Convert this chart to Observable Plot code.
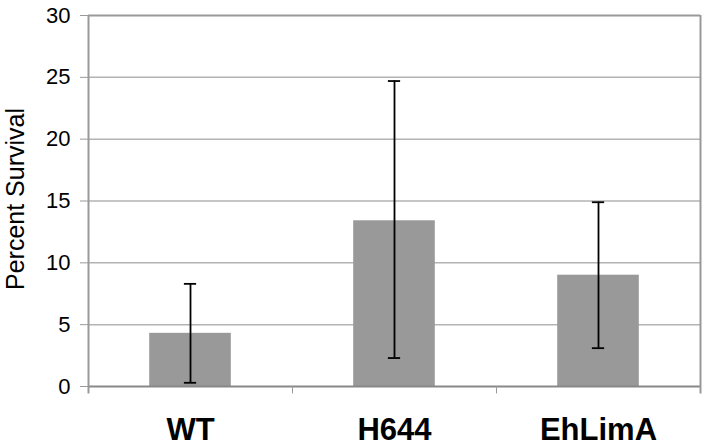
<!DOCTYPE html>
<html>
<head>
<meta charset="utf-8">
<script src="https://cdn.jsdelivr.net/npm/d3@7"></script>
<script src="https://cdn.jsdelivr.net/npm/@observablehq/plot@0.6"></script>
<style>
  html, body { margin: 0; padding: 0; background: white; }
</style>
</head>
<body>
<div id="chart"></div>
<script>
const categories = ["WT", "H644", "EhLimA"];
const means = [4.3, 13.4, 9.0];
const lows = [0.3, 2.3, 3.1];
const highs = [8.3, 24.7, 14.9];
const yTicks = [0, 5, 10, 15, 20, 25, 30];
const yLabel = "Percent Survival";

const data = categories.map((c, i) => ({c, i, mean: means[i], lo: lows[i], hi: highs[i]}));
const bounds = d3.range(categories.length + 1);

const chart = Plot.plot({
  width: 707,
  height: 446,
  marginLeft: 88,
  marginRight: 7,
  marginTop: 15,
  marginBottom: 60,
  style: {fontFamily: "'Liberation Sans', Arial, sans-serif", background: "white", color: "black"},
  x: {domain: [0, categories.length]},
  y: {domain: [0, 30]},
  marks: [
    Plot.ruleY(yTicks.filter(t => t > 0 && t < 30), {stroke: "#b3b3b3", strokeWidth: 1.5}),
    Plot.ruleY([30], {stroke: "#999", strokeWidth: 2}),
    Plot.axisY({ticks: yTicks, tickSize: 8, tickPadding: 10, fontSize: 22, label: null, stroke: "#999", fill: "black"}),
    Plot.rectY(data, {x1: d => d.i + 0.3, x2: d => d.i + 0.7, y: "mean", fill: "#999999"}),
    Plot.ruleX(data, {x: d => d.i + 0.5, y1: "lo", y2: "hi", stroke: "black", strokeWidth: 1.8}),
    Plot.ruleY(data, {y: "hi", x1: d => d.i + 0.47, x2: d => d.i + 0.53, stroke: "black", strokeWidth: 1.8}),
    Plot.ruleY(data, {y: "lo", x1: d => d.i + 0.47, x2: d => d.i + 0.53, stroke: "black", strokeWidth: 1.8}),
    Plot.ruleY([0], {stroke: "#888", strokeWidth: 2}),
    Plot.ruleX(bounds, {y1: -0.6, y2: d => (d === 0 || d === categories.length) ? 30 : 0, stroke: "#999", strokeWidth: d => (d === 0 || d === categories.length) ? 2 : 1}),
    Plot.axisX({ticks: categories.map((c, i) => i + 0.5), tickFormat: d => categories[Math.floor(d)], tickSize: 0, tickPadding: 31, fontSize: 31, fontWeight: "bold", label: null}),
    Plot.text([yLabel], {frameAnchor: "left", textAnchor: "middle", rotate: -90, dx: -73, dy: -2, fontSize: 25, fill: "black"})
  ]
});
document.getElementById("chart").appendChild(chart);
</script>
</body>
</html>
